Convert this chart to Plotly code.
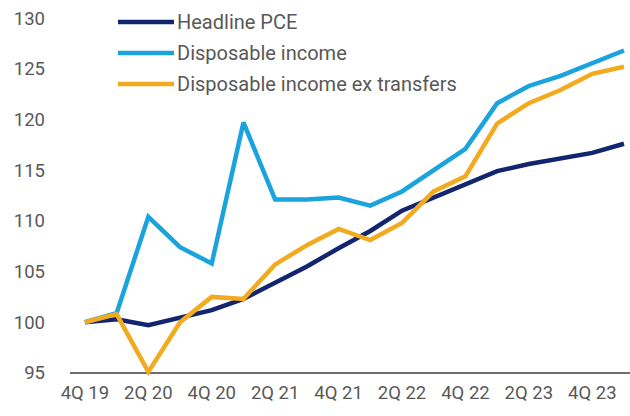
import plotly.graph_objects as go

# Quarterly index levels, 4Q 2019 = 100
quarters = ["4Q 19", "1Q 20", "2Q 20", "3Q 20", "4Q 20", "1Q 21", "2Q 21", "3Q 21",
            "4Q 21", "1Q 22", "2Q 22", "3Q 22", "4Q 22", "1Q 23", "2Q 23", "3Q 23",
            "4Q 23", "1Q 24"]
headline_pce = [100.0, 100.3, 99.7, 100.5, 101.2, 102.3, 103.9, 105.5, 107.3,
                109.0, 111.0, 112.3, 113.6, 114.9, 115.6, 116.2, 116.7, 117.6]
disposable_income = [100.0, 100.9, 110.4, 107.4, 105.8, 119.7, 112.1, 112.1, 112.3,
                     111.5, 112.9, 115.0, 117.1, 121.6, 123.3, 124.3, 125.5, 126.8]
disposable_ex_transfers = [100.0, 100.8, 95.1, 100.0, 102.5, 102.3, 105.7, 107.6, 109.2,
                           108.1, 109.8, 112.9, 114.4, 119.6, 121.6, 122.9, 124.5, 125.2]

series_names = ["Headline PCE", "Disposable income", "Disposable income ex transfers"]
series_values = [headline_pce, disposable_income, disposable_ex_transfers]
series_colors = ["#13256e", "#1ba3dd", "#f2aa1f"]

y_ticks = [95, 100, 105, 110, 115, 120, 125, 130]
x_tick_labels = quarters[::2]

FONT = "Roboto, sans-serif"
TEXT_COLOR = "#585858"

W, H = 630, 416
M_L, M_R, M_T, M_B = 70, 0, 16, 39
plot_w = W - M_L - M_R
plot_h = H - M_T - M_B

fig = go.Figure()
for name, vals, col in zip(series_names, series_values, series_colors):
    fig.add_trace(go.Scatter(
        x=list(range(len(quarters))), y=vals, name=name, mode="lines",
        line=dict(color=col, width=4.5), showlegend=False,
    ))

# baseline at 95
fig.add_shape(type="line", xref="paper", yref="y", x0=0, x1=1, y0=95, y1=95,
              line=dict(color="#3c3c3c", width=1.6), layer="below")

# legend drawn as short line keys with labels, top-left
def px_x(p):
    return (p - M_L) / plot_w

def px_y(p):
    return 1 - (p - M_T) / plot_h

for i, (name, col) in enumerate(zip(series_names, series_colors)):
    yy = px_y(22 + 31 * i)
    fig.add_shape(type="line", xref="paper", yref="paper",
                  x0=px_x(118), x1=px_x(174), y0=yy, y1=yy,
                  line=dict(color=col, width=4.5))
    fig.add_annotation(xref="paper", yref="paper", x=px_x(175), y=yy,
                       text=name, showarrow=False, xanchor="left", yanchor="middle",
                       font=dict(family=FONT, size=20, color=TEXT_COLOR))

fig.update_layout(
    width=W, height=H,
    margin=dict(l=M_L, r=M_R, t=M_T, b=M_B, pad=0),
    paper_bgcolor="white", plot_bgcolor="white",
    font=dict(family=FONT, size=18.5, color=TEXT_COLOR),
    xaxis=dict(
        range=[-0.47, 17.19],
        tickvals=list(range(0, len(quarters), 2)), ticktext=x_tick_labels,
        showgrid=False, zeroline=False, showline=False, ticks="",
        ticklabelstandoff=2,
    ),
    yaxis=dict(
        range=[94.6, 130.2], tickvals=y_ticks,
        showgrid=False, zeroline=False, showline=False, ticks="",
        ticklabelstandoff=24,
    ),
)

fig.write_html("out.html")
